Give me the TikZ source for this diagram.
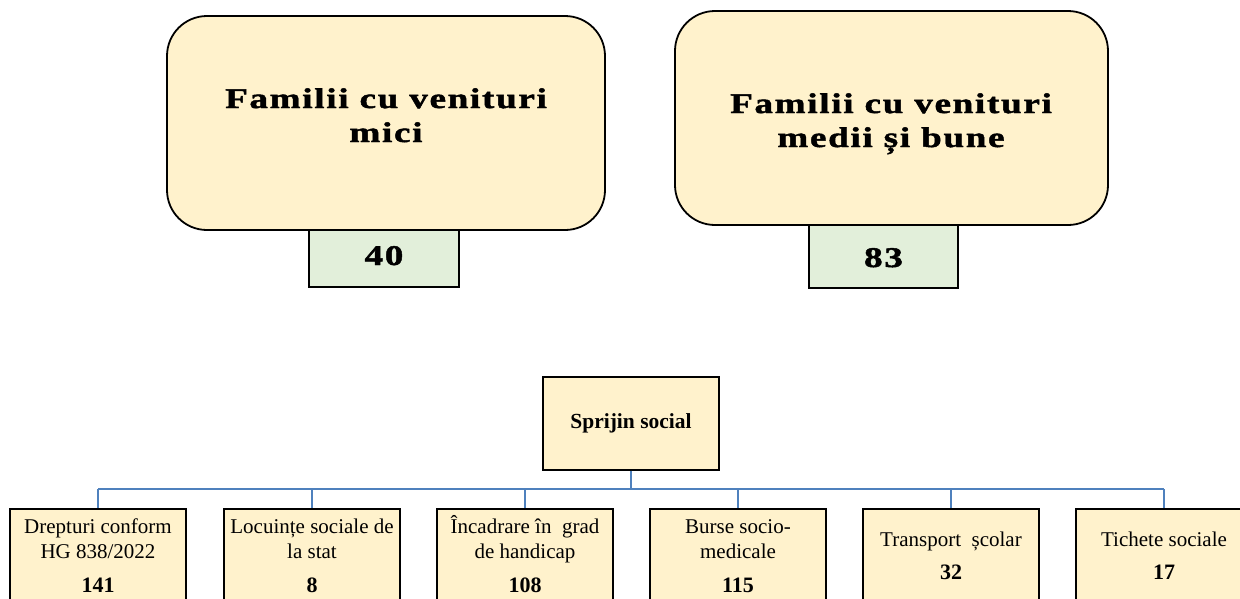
\documentclass[tikz,border=0pt]{standalone}
\usepackage{fontspec}
\setmainfont{Liberation Serif}
\newfontfamily\widefont[FakeStretch=1.3,LetterSpace=6,FakeBold=1.6]{Liberation Serif Bold}
\definecolor{boxyellow}{HTML}{FFF2CC}
\definecolor{boxgreen}{HTML}{E2EFDA}
\definecolor{linkblue}{HTML}{4F81BD}
\begin{document}
\begin{tikzpicture}[x=1pt,y=-1pt,
  topbox/.style={draw=black,line width=1.8pt,fill=boxyellow,rounded corners=40pt,inner sep=0pt},
  numbox/.style={draw=black,line width=1.5pt,fill=boxgreen,inner sep=0pt},
  toptext/.style={font=\widefont\fontsize{28.5}{32}\selectfont,inner sep=0pt,anchor=base},
  rootbox/.style={draw=black,line width=1.2pt,fill=boxyellow,inner sep=0pt,minimum width=176pt,minimum height=93pt,font=\fontsize{21.5}{25}\selectfont\bfseries},
  leafbox/.style={draw=black,line width=1.2pt,fill=boxyellow,inner sep=0pt,minimum width=176pt,minimum height=120pt},
  leaftext/.style={font=\fontsize{21}{25}\selectfont,inner sep=0pt,anchor=base},
  leafnum/.style={font=\fontsize{22}{25}\selectfont\bfseries,inner sep=0pt,anchor=base},
  link/.style={draw=linkblue,line width=1.6pt}]
\useasboundingbox (0,0) rectangle (1240,598);
\clip (0,0) rectangle (1240,598);
\fill[white] (0,0) rectangle (1240,598);

% top boxes
\node[numbox,minimum width=150pt,minimum height=57pt] (n1) at (384,258.5) {};
\node[topbox,minimum width=438pt,minimum height=214pt] (b1) at (386,123) {};
\node[toptext] (t1a) at (386,108) {Familii cu venituri};
\node[toptext] (t1b) at (386,142) {mici};
\node[toptext] (v1) at (384,265) {40};

\node[numbox,minimum width=149pt,minimum height=63pt] (n2) at (883.5,256.5) {};
\node[topbox,minimum width=433pt,minimum height=214pt] (b2) at (891.5,118) {};
\node[toptext] (t2a) at (891,113) {Familii cu venituri};
\node[toptext] (t2b) at (891,147) {medii și bune};
\node[toptext] (v2) at (883.5,267) {83};

% org chart
\node[rootbox] (root) at (631,423.5) {Sprijin social};
\coordinate (bus) at (631,489);

\node[leafbox] (l1) at (98,569) {};
\node[leafbox] (l2) at (312,569) {};
\node[leafbox] (l3) at (525,569) {};
\node[leafbox] (l4) at (738,569) {};
\node[leafbox] (l5) at (951,569) {};
\node[leafbox] (l6) at (1164,569) {};

\coordinate (d1) at (98,489);
\coordinate (d6) at (1164,489);
\draw[link] (root.south) -- (bus);
\draw[link] (d1) -- (d6);
\foreach \i in {1,...,6} {
  \draw[link] (l\i.north |- bus) -- (l\i.north);
}

\node[leaftext] (l1a) at (98,533) {Drepturi conform};
\node[leaftext] (l1b) at (98,558) {HG 838/2022};
\node[leafnum] (l1n) at (98,592) {141};

\node[leaftext] (l2a) at (312,533) {Locuințe sociale de};
\node[leaftext] (l2b) at (312,558) {la stat};
\node[leafnum] (l2n) at (312,592) {8};

\node[leaftext] (l3a) at (525,533) {Încadrare în\ \ grad};
\node[leaftext] (l3b) at (525,558) {de handicap};
\node[leafnum] (l3n) at (525,592) {108};

\node[leaftext] (l4a) at (738,533) {Burse socio-};
\node[leaftext] (l4b) at (738,558) {medicale};
\node[leafnum] (l4n) at (738,592) {115};

\node[leaftext] (l5a) at (951,546) {Transport\ \ școlar};
\node[leafnum] (l5n) at (951,579) {32};

\node[leaftext] (l6a) at (1164,546) {Tichete sociale};
\node[leafnum] (l6n) at (1164,579) {17};
\end{tikzpicture}
\end{document}
